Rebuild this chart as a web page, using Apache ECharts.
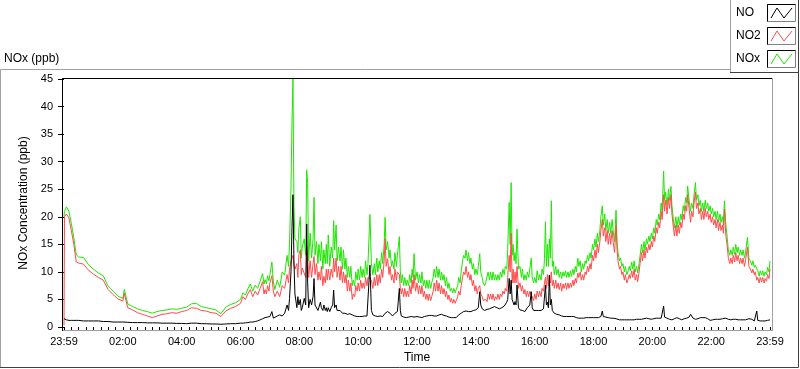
<!DOCTYPE html>
<html>
<head>
<meta charset="utf-8">
<script src="https://cdn.jsdelivr.net/npm/echarts@6/dist/echarts.min.js"></script>
<style>html,body{margin:0;padding:0;background:#fff;}#c{width:800px;height:369px;}</style>
</head>
<body>
<div id="c"></div>
<script>
// minutes since the 23:59 start
const times = [
  0,1,5,10,15,20,25,30,40,50,60,70,80,
  90,100,110,120,123,130,140,150,160,170,180,190,200,
  210,220,230,240,250,260,270,280,290,300,310,320,330,340,350,
  360,365,370,375,380,385,390,395,400,405,408,410,413,415,418,420,424,427,430,435,440,
  445,450,455,458,460,463,465,467,469,471,475,477,479,482,484,486,490,493,495,497,499,
  502,505,508,510,512,515,518,520,523,525,528,530,533,535,537,539,542,545,548,
  550,552,555,557,560,563,565,568,570,573,575,578,580,583,585,588,590,593,595,598,
  600,603,605,608,610,613,615,618,620,624,627,630,633,635,638,640,643,645,648,
  650,653,655,657,660,663,665,668,670,673,675,678,680,684,686,688,690,693,695,698,
  700,703,705,708,710,712,714,717,720,723,725,728,730,733,735,738,740,743,745,748,
  750,753,755,758,760,763,765,768,770,773,775,778,780,783,785,788,790,793,795,798,
  800,803,805,808,810,813,815,818,820,823,825,828,830,833,835,838,840,843,845,848,
  850,853,855,858,860,863,865,868,870,873,875,878,880,883,885,888,890,893,895,898,
  900,903,905,908,910,912,914,916,918,920,922,924,927,930,933,935,938,940,943,945,948,
  950,953,955,958,960,963,965,968,970,973,975,978,980,982,984,986,988,990,992,994,996,998,
  1000,1003,1005,1008,1010,1013,1015,1018,1020,1023,1025,1028,1030,1033,1035,1038,1040,1043,1045,1048,
  1050,1053,1055,1058,1060,1063,1065,1068,1070,1073,1075,1078,1080,1083,1085,1088,1090,1093,1095,1098,
  1100,1103,1105,1108,1110,1113,1115,1118,1120,1123,1126,1128,1130,1133,1135,1138,1140,1143,1145,1148,
  1150,1153,1155,1158,1160,1163,1165,1168,1170,1173,1175,1178,1180,1183,1185,1188,1190,1193,1195,1198,
  1200,1203,1205,1208,1210,1213,1215,1218,1220,1223,1225,1227,1230,1233,1235,1238,1240,1243,1245,1248,
  1250,1253,1255,1258,1260,1263,1265,1268,1270,1272,1275,1278,1280,1283,1285,1288,1290,1293,1295,1298,
  1300,1303,1305,1308,1310,1313,1315,1318,1320,1323,1325,1328,1330,1333,1335,1338,1340,1343,1345,1347,
  1350,1353,1355,1358,1360,1363,1365,1368,1370,1373,1375,1378,1380,1383,1385,1388,1390,1394,1397,
  1400,1403,1405,1408,1410,1413,1415,1418,1420,1423,1425,1428,1430,1433,1435,1438,1440
];
const noValues = [
  1.5,1.5,1.3,1.2,1.2,1.2,1.2,1.2,1.1,1.1,1.1,1.1,1.0,
  1.0,0.9,0.9,0.9,0.9,0.85,0.8,0.8,0.8,0.75,0.75,0.75,0.7,
  0.7,0.7,0.65,0.65,0.6,0.7,0.7,0.6,0.6,0.55,0.55,0.5,0.55,0.6,0.6,
  0.7,0.7,0.75,0.8,0.9,0.9,1.0,1.1,1.3,1.5,1.5,1.7,1.8,1.8,1.9,1.9,2.8,1.6,1.3,2.0,2.2,
  2.0,2.5,4.0,3.0,5.2,10,18,24,12,6,3.5,5.5,4.0,5.0,3.0,3.5,5.2,4.0,18.7,8,3.5,
  5.0,4.0,5.5,8.8,4.0,4.0,3.0,3.1,4.5,3.5,3.0,4.0,3.0,3.5,2.8,3.5,2.8,3.5,4.0,
  6.7,3.5,4.0,3.0,2.8,3.0,3.0,2.5,2.8,2.5,2.6,2.3,2.2,2.4,2.3,2.2,2.2,2.0,2.0,1.9,
  1.9,1.9,2.0,1.9,1.9,2.0,2.0,2.0,2.0,11.2,3.0,2.2,2.0,2.0,2.0,1.9,1.9,2.0,2.0,
  1.9,2.2,2.5,2.8,2.8,2.5,2.5,2.2,2.0,2.2,2.5,2.5,2.8,7.0,3.0,2.0,1.9,1.8,1.8,1.7,
  1.7,1.8,1.8,1.9,1.9,1.8,1.8,1.8,1.9,1.8,1.8,1.7,1.7,1.8,1.9,2.0,2.0,2.0,2.1,2.0,
  2.1,2.0,2.0,2.0,2.0,2.1,2.2,2.2,2.3,2.2,2.1,2.0,2.0,1.9,1.8,1.7,1.7,1.7,1.7,1.7,
  1.7,2.0,2.2,2.4,2.5,2.7,2.8,2.9,2.9,2.8,2.8,2.8,2.8,2.9,3.0,3.0,3.1,3.3,3.5,6.4,
  4.0,3.3,3.2,3.0,3.0,3.2,3.4,3.3,3.4,3.5,3.6,3.7,3.7,3.5,3.4,3.3,3.3,3.5,3.7,3.8,
  4.0,4.5,5.0,8.8,6.0,8.5,5.0,5.0,4.0,4.6,4.0,7.6,3.5,3.1,3.0,3.0,2.8,2.8,3.0,3.5,3.5,
  4.0,6.4,3.5,3.0,2.8,3.0,3.1,3.0,3.1,3.0,3.2,3.3,3.5,7.6,4.0,4.5,3.5,9.4,4.0,5.0,3.0,2.8,
  2.5,2.4,2.3,2.2,2.2,2.1,2.0,2.0,1.9,1.9,1.9,1.9,1.9,1.9,1.9,1.9,1.9,1.8,1.7,1.7,
  1.6,1.6,1.6,1.6,1.6,1.6,1.7,1.7,1.7,1.7,1.7,1.7,1.7,1.7,1.7,1.7,1.7,1.8,1.9,2.9,
  1.9,1.8,1.8,1.7,1.7,1.7,1.6,1.6,1.6,1.6,1.5,1.4,1.3,1.3,1.3,1.3,1.3,1.3,1.3,1.3,
  1.3,1.3,1.3,1.3,1.3,1.3,1.4,1.4,1.4,1.4,1.4,1.4,1.4,1.5,1.5,1.6,1.6,1.5,1.5,1.4,
  1.4,1.5,1.5,1.6,1.6,1.6,1.6,1.6,1.6,3.8,1.8,1.6,1.6,1.5,1.4,1.3,1.3,1.4,1.5,1.6,
  1.7,1.6,1.5,1.4,1.3,1.4,1.5,1.6,1.6,1.6,1.8,2.3,2.0,1.6,1.5,1.4,1.4,1.5,1.6,1.7,
  1.7,1.7,1.7,1.7,1.7,1.5,1.3,1.2,1.2,1.3,1.3,1.4,1.4,1.4,1.4,1.4,1.4,1.5,1.5,1.5,
  1.6,1.5,1.4,1.3,1.3,1.3,1.4,1.4,1.4,1.3,1.3,1.3,1.3,1.3,1.3,1.3,1.3,1.4,1.5,
  1.6,1.4,1.3,1.1,1.1,2.9,1.2,1.1,1.1,1.1,1.1,1.1,1.1,1.1,1.2,1.2,1.3
];
const no2Values = [
  0.3,20.0,20.5,19.8,17.5,15.0,11.8,11.6,11.4,10.3,9.6,9.0,8.5,
  6.8,5.9,5.1,4.7,6.1,3.5,3.1,2.6,2.3,2.0,1.7,2.0,2.3,
  2.4,2.6,2.5,2.8,3.0,3.5,3.4,3.0,2.9,2.6,2.5,1.9,2.9,3.4,3.7,
  4.3,5.5,5.0,6.0,6.8,5.5,6.5,5.8,7.0,8.2,6.0,6.8,6.0,7.5,6.5,8.0,9.3,6.5,5.5,6.5,5.5,
  7.5,7.0,9.5,8.0,10.5,12,12.5,13,11,10.5,11.5,9.0,13.1,14.0,9.5,10.7,11.0,9.0,14.6,13,9.0,
  12.0,9.0,11.5,12.8,9.5,11.5,8.5,10.0,8.5,11.0,7.5,9.2,8.0,10.5,8.5,10.5,8.5,10.5,9.0,
  12.5,10.0,12.5,9.0,11.0,8.5,11.0,8.0,10.0,8.0,9.5,6.5,8.5,6.5,8.0,5.0,6.0,5.5,7.5,6.5,
  8.0,6.5,8.5,7.0,8.0,7.0,9.0,7.5,9.0,9.0,8.5,7.0,9.0,7.5,9.5,7.5,9.5,8.0,10.5,
  9.0,12.0,16.0,11.0,12.4,9.5,11.0,8.5,9.5,8.0,10.5,8.5,10.0,9.5,7.0,6.0,7.0,5.5,7.0,5.5,
  6.5,5.5,7.5,6.0,8.5,7.0,9.5,6.5,8.0,6.0,7.5,6.0,7.5,5.5,6.5,5.0,6.0,4.8,6.0,4.8,
  5.5,6.5,8.0,6.5,8.5,6.5,8.0,6.0,7.5,6.0,7.0,5.5,6.5,5.0,5.8,4.5,5.2,4.3,5.0,4.3,
  4.8,5.5,6.5,5.8,7.5,9.0,10.0,9.5,11.0,9.0,10.0,8.5,9.5,7.5,8.5,6.5,7.5,6.0,7.0,7.5,
  6.0,5.5,4.8,4.5,5.0,4.6,6.0,5.0,6.0,5.0,6.0,4.8,5.5,5.0,6.0,5.0,6.0,5.5,6.5,6.0,
  7.0,6.5,9.0,13.0,10.0,17.0,8.0,10.5,8.0,10.0,8.0,11.0,7.0,8.0,6.5,7.5,6.0,6.8,5.5,6.5,5.5,
  6.5,6.5,5.5,4.8,6.0,5.0,6.5,5.5,6.5,5.5,7.0,6.5,8.0,9.0,7.0,9.5,7.5,9.4,8.0,10.0,7.5,8.5,
  7.0,8.5,7.0,8.0,6.8,8.0,6.5,7.8,7.0,8.0,6.8,8.0,7.0,8.0,7.2,8.5,7.5,8.8,8.0,9.8,
  9.0,10.0,8.5,9.5,8.5,10.0,9.5,11.0,10.0,11.5,10.5,13.0,12.0,14.0,12.5,15.0,13.5,15.5,17.5,19.5,
  16.5,18.0,15.5,17.5,15.0,17.0,15.0,17.5,15.5,13.5,18.5,14.0,12.0,10.5,11.0,9.5,10.0,8.5,9.5,8.0,
  8.5,9.5,8.8,10.2,9.0,10.5,8.5,9.5,8.2,10.0,11.5,13.5,12.0,14.0,12.5,14.5,13.5,15.0,14.0,15.5,
  14.5,16.5,15.5,18.0,17.0,19.0,18.0,21.0,19.5,24.0,21.0,23.0,20.5,23.5,21.5,24.0,20.5,18.0,16.5,18.5,
  16.5,18.5,17.0,19.0,18.0,20.5,19.5,22.0,21.0,24.0,21.5,19.0,21.0,20.0,22.5,24.5,21.5,22.5,20.5,21.5,
  19.5,21.0,19.5,21.5,20.0,21.0,19.5,20.5,19.0,20.0,18.5,19.5,18.0,19.5,17.5,19.0,17.5,18.5,17.0,21.4,
  16.5,14.5,12.5,11.5,12.5,11.5,13.0,11.8,13.5,12.0,13.0,11.5,12.5,11.5,12.5,11.0,12.0,14.5,11.0,
  10.5,9.8,10.5,9.5,10.0,8.5,9.0,8.0,9.0,8.2,9.0,8.0,8.8,8.3,9.5,8.8,10.5
];
const noxValues = [
  20.0,21.0,21.8,21.0,18.8,16.2,13.1,12.7,12.6,11.3,10.5,9.8,9.3,
  7.4,6.5,5.6,5.2,6.8,4.2,3.7,3.3,3.0,2.8,2.5,2.8,3.0,
  3.1,3.3,3.2,3.4,3.6,4.2,4.3,3.7,3.5,3.3,3.1,2.4,3.6,4.1,4.4,
  5.0,6.2,5.8,6.9,7.8,6.5,7.6,7.0,8.3,9.7,7.8,8.6,7.8,9.3,8.4,9.5,11.8,8.2,6.8,8.5,7.2,
  10.0,9.4,13.0,11.0,15.0,25.4,37,45,22,16,15.5,13.5,17.9,20.0,12.5,14.5,16.0,13.0,28.5,26,12.0,
  17.0,12.5,16.0,23.5,13.0,15.5,11.5,15.0,12.0,15.5,10.5,14.0,11.5,15.0,11.5,16.7,11.0,14.5,12.5,
  19.3,14.0,18.5,12.0,14.5,12.0,14.5,10.5,14.0,10.5,12.5,9.0,11.0,9.0,11.0,7.5,8.5,7.5,10.0,8.5,
  10.5,8.5,11.0,9.0,10.5,9.0,12.0,9.5,11.5,20.4,11.5,9.5,11.5,9.5,12.5,10.0,12.0,10.5,13.5,
  11.5,15.0,19.9,14.0,15.5,12.5,14.0,11.0,12.0,10.5,13.5,11.0,13.0,16.4,10.0,8.0,9.5,7.5,9.0,7.5,
  8.5,7.5,9.5,8.0,10.5,9.0,13.3,8.5,10.0,8.0,9.5,8.0,10.0,7.5,8.5,7.0,8.5,7.0,8.5,7.0,
  8.0,9.0,10.5,9.0,11.0,9.0,10.5,8.5,10.0,8.5,9.5,7.5,9.0,7.0,8.0,6.5,7.0,6.2,7.0,6.2,
  6.8,7.5,9.0,8.0,10.0,12.0,13.0,12.5,14.0,12.0,13.5,11.5,12.5,10.5,11.5,9.5,10.5,9.5,11.0,13.3,
  10.0,9.0,8.0,7.5,8.0,8.0,10.0,8.5,10.0,8.5,10.0,8.5,9.5,8.5,9.5,8.5,10.0,9.0,10.5,9.5,
  11.0,10.5,14.0,22.6,15.0,26.2,13.0,15.0,12.0,13.5,11.5,17.8,10.5,11.0,9.0,10.5,8.5,9.5,8.5,10.0,9.0,
  10.5,12.5,9.0,8.0,9.0,8.0,10.2,8.5,9.5,8.5,10.5,9.5,12.4,19.1,11.0,15.0,11.0,16.0,12.5,22.9,11.0,12.0,
  9.5,11.0,9.5,10.5,9.0,10.0,8.8,10.0,9.2,10.2,9.0,10.0,9.0,10.2,9.2,10.5,9.5,11.0,10.0,12.5,
  11.0,12.0,10.0,11.5,10.5,12.0,11.5,13.0,12.0,13.5,12.5,15.0,14.0,16.0,14.5,17.0,15.5,17.5,20.0,22.0,
  18.5,20.5,17.5,19.5,17.0,19.0,17.0,19.5,17.5,15.5,21.2,15.5,13.5,12.0,12.5,11.0,11.5,10.0,11.0,9.5,
  10.0,11.0,10.2,11.8,10.5,12.0,10.0,11.0,9.8,11.5,13.0,15.0,13.5,15.5,14.0,16.0,15.0,16.5,15.5,17.0,
  16.0,18.0,17.0,19.5,18.5,20.5,19.5,22.5,21.0,28.3,23.0,24.5,22.0,25.0,23.0,25.5,22.0,19.5,18.0,20.0,
  18.0,20.0,18.5,20.5,19.5,22.0,21.0,23.5,22.5,25.6,23.0,21.0,22.5,21.5,24.0,26.2,23.0,24.0,22.0,23.0,
  21.0,22.5,21.0,23.0,21.5,22.5,21.0,22.0,20.5,21.5,20.0,21.0,19.5,21.0,19.0,20.5,19.0,20.0,18.5,22.9,
  18.5,16.0,14.0,13.0,14.0,13.0,14.5,13.2,15.0,13.5,14.5,13.0,14.0,13.0,14.0,12.5,13.5,16.3,12.5,
  12.0,11.2,12.0,10.8,11.2,11.5,10.2,9.2,10.2,9.4,10.2,9.2,10.0,9.5,10.8,10.0,12.0
];
const xTickLabels = ['23:59','02:00','04:00','06:00','08:00','10:00','12:00','14:00','16:00','18:00','20:00','22:00','23:59'];
const seriesNames = ['NO','NO2','NOx'];
const seriesColors = ['#000000','#ff4b4b','#1ee600'];

const FONT = 'Liberation Sans';
const chart = echarts.init(document.getElementById('c'), null, {renderer:'canvas'});

function pairs(vals){ return times.map((t,i)=>[t, vals[i]]); }

const legendEls = [];
legendEls.push({type:'rect', shape:{x:730.5,y:-1,width:68,height:73}, style:{fill:'#fff', stroke:null}, z:10});
legendEls.push({type:'polyline', shape:{points:[[730.5,72],[730.5,-1]]}, style:{stroke:'#a0a0a0',lineWidth:1,fill:null}, z:11});
legendEls.push({type:'polyline', shape:{points:[[730,72.5],[798.5,72.5],[798.5,-1]]}, style:{stroke:'#404040',lineWidth:1,fill:null}, z:11});
const rowsY = [4, 27, 50];
seriesNames.forEach((n,i)=>{
  const y0 = rowsY[i];
  legendEls.push({type:'text', style:{text:n, x:736, y:y0+8.5, fill:'#000', font:'12px "'+FONT+'"', verticalAlign:'middle'}, z:12});
  legendEls.push({type:'rect', shape:{x:767.5,y:y0+0.5,width:28,height:17}, style:{fill:'#fff', stroke:'#808080', lineWidth:1}, z:12});
  legendEls.push({type:'polyline', shape:{points:[[767.5,y0+17.5],[767.5,y0+0.5],[795.5,y0+0.5]]}, style:{stroke:'#000',lineWidth:1,fill:null}, z:13});
  legendEls.push({type:'polyline', shape:{points:[[771,y0+14],[777,y0+4],[784,y0+14],[792,y0+4]]}, style:{stroke:seriesColors[i],lineWidth:1,fill:null}, z:13});
});

const extra = [];
if (!(times.length===noValues.length && times.length===no2Values.length && times.length===noxValues.length)) {
  extra.push({type:'text', style:{text:'LEN '+times.length+' '+noValues.length+' '+no2Values.length+' '+noxValues.length, x:300, y:120, fill:'#f0f', font:'20px sans-serif'}, z:50});
}

const option = {
  animation:false,
  backgroundColor:'#ffffff',
  textStyle:{fontFamily:FONT},
  grid:{left:64,right:30,top:79,bottom:40,containLabel:false},
  xAxis:{
    type:'value', min:0, max:1440, interval:120, offset:3,
    axisLine:{show:false},
    axisTick:{show:true, length:4, lineStyle:{color:'#000'}},
    minorTick:{show:true, splitNumber:8, length:3, lineStyle:{color:'#000'}},
    axisLabel:{margin:6, fontSize:11, color:'#000', fontFamily:FONT, showMinLabel:true, showMaxLabel:true,
      formatter:v=>xTickLabels[Math.round(v/120)]},
    splitLine:{show:false}, minorSplitLine:{show:false},
    name:'Time', nameLocation:'middle', nameGap:22,
    nameTextStyle:{fontSize:12, color:'#000', fontFamily:FONT}
  },
  yAxis:{
    type:'value', min:0, max:45, interval:5, offset:3,
    axisLine:{show:false},
    axisTick:{show:true, length:6, lineStyle:{color:'#000'}},
    axisLabel:{margin:8, fontSize:11, color:'#000', fontFamily:FONT},
    splitLine:{show:false},
    name:'NOx Concentration (ppb)', nameLocation:'middle', nameGap:23, nameRotate:90,
    nameTextStyle:{fontSize:12, color:'#000', fontFamily:FONT}
  },
  series:[
    {name:'NOx', type:'line', data:pairs(noxValues), showSymbol:false, symbol:'none', lineStyle:{width:1,color:seriesColors[2]}, itemStyle:{color:seriesColors[2]}, z:2},
    {name:'NO2', type:'line', data:pairs(no2Values), showSymbol:false, symbol:'none', lineStyle:{width:1,color:seriesColors[1]}, itemStyle:{color:seriesColors[1]}, z:3},
    {name:'NO', type:'line', data:pairs(noValues), showSymbol:false, symbol:'none', lineStyle:{width:1,color:seriesColors[0]}, itemStyle:{color:seriesColors[0]}, z:4}
  ],
  graphic:[
    {type:'polyline', shape:{points:[[0.5,368],[0.5,69.5],[731,69.5]]}, style:{stroke:'#a0a0a0',lineWidth:1,fill:null}, z:5},
    {type:'polyline', shape:{points:[[0,367.5],[798.5,367.5],[798.5,72]]}, style:{stroke:'#404040',lineWidth:1,fill:null}, z:5},
    {type:'line', shape:{x1:62,y1:78.5,x2:772,y2:78.5}, style:{stroke:'#000',lineWidth:1}, z:6},
    {type:'line', shape:{x1:62.5,y1:78,x2:62.5,y2:331}, style:{stroke:'#000',lineWidth:1}, z:6},
    {type:'line', shape:{x1:772.5,y1:78,x2:772.5,y2:331}, style:{stroke:'#a0a0a0',lineWidth:1}, z:6},
    {type:'line', shape:{x1:63,y1:330.5,x2:773,y2:330.5}, style:{stroke:'#a0a0a0',lineWidth:1}, z:6},
    {type:'text', style:{text:'NOx (ppb)', x:4, y:59, fill:'#000', font:'12px "'+FONT+'"', verticalAlign:'middle'}, z:6}
  ].concat(legendEls).concat(extra)
};
chart.setOption(option);
</script>
</body>
</html>
